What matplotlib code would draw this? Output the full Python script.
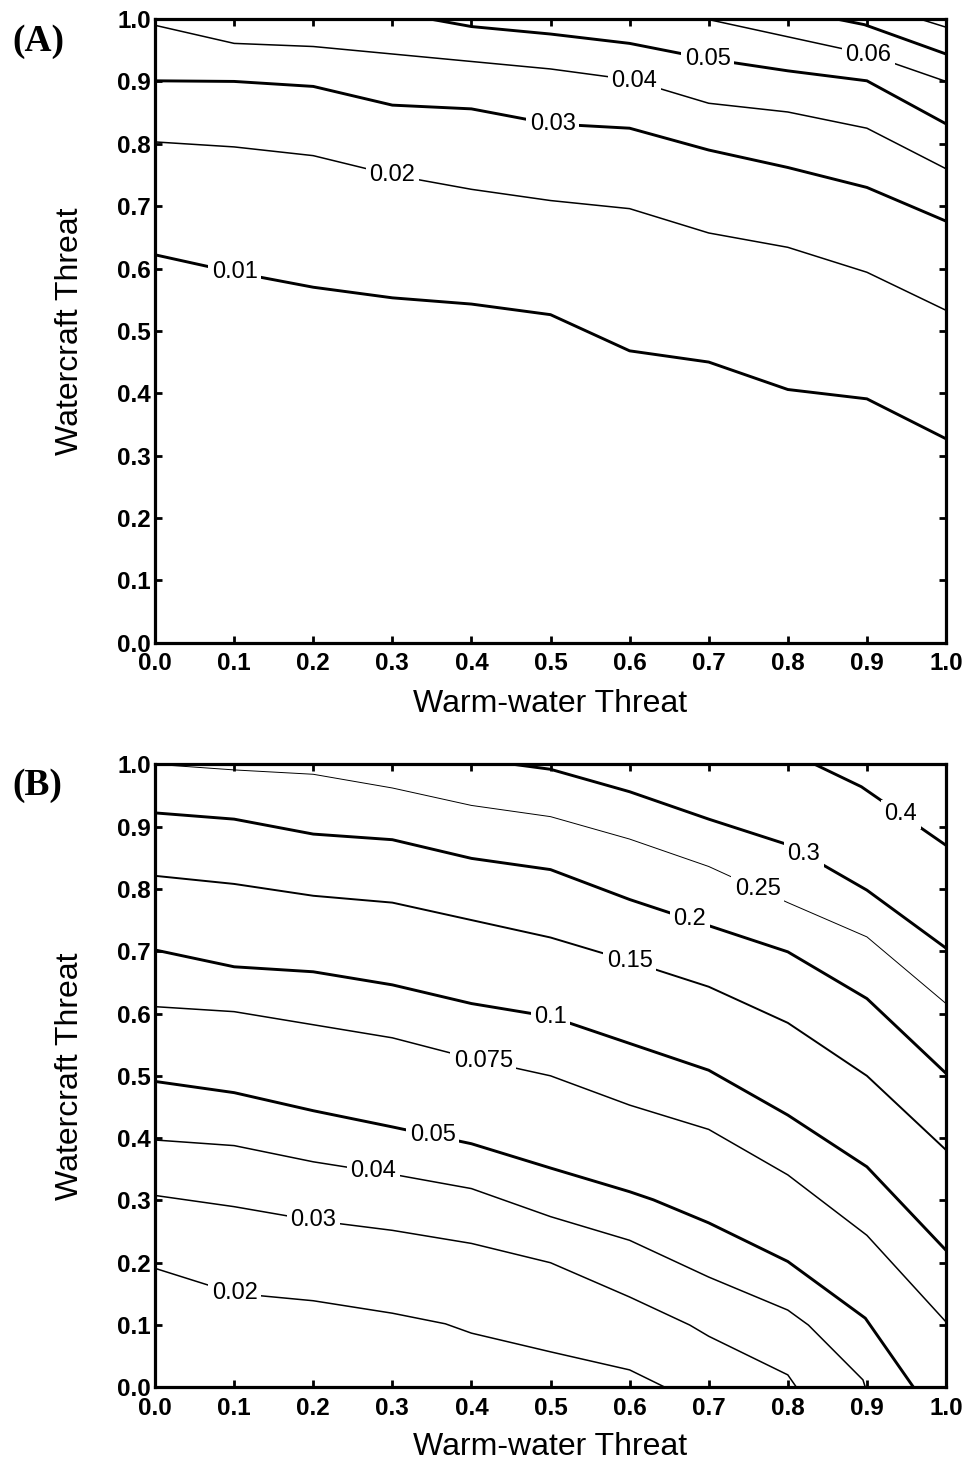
import numpy as np
import matplotlib
matplotlib.use("Agg")
import matplotlib.pyplot as plt

plt.rcParams["font.family"] = ["Liberation Sans", "DejaVu Sans"]

# ---------------- data ----------------
GRID = [0.0, 0.1, 0.2, 0.3, 0.4, 0.5, 0.6, 0.7, 0.8, 0.9, 1.0]

# panel A: contour levels and their vertices (warm-water x, watercraft y)
a_levels = ["0.01", "0.02", "0.03", "0.04", "0.05", "0.06", "0.07", "0.08"]
a_x_001 = GRID
a_y_001 = [0.622, 0.594, 0.570, 0.553, 0.543, 0.526, 0.468, 0.450, 0.406, 0.391, 0.327]
a_x_002 = GRID
a_y_002 = [0.803, 0.795, 0.781, 0.750, 0.727, 0.709, 0.696, 0.657, 0.634, 0.594, 0.533]
a_x_003 = GRID
a_y_003 = [0.901, 0.900, 0.892, 0.862, 0.856, 0.832, 0.825, 0.790, 0.762, 0.730, 0.676]
a_x_004 = GRID
a_y_004 = [0.990, 0.961, 0.956, 0.944, 0.932, 0.920, 0.903, 0.865, 0.851, 0.825, 0.760]
a_x_005 = [0.348, 0.4, 0.5, 0.6, 0.7, 0.8, 0.9, 1.0]
a_y_005 = [1.0, 0.988, 0.976, 0.961, 0.936, 0.917, 0.901, 0.832]
a_x_006 = [0.697, 0.9, 1.0]
a_y_006 = [1.0, 0.944, 0.900]
a_x_007 = [0.862, 0.897, 1.0]
a_y_007 = [1.0, 0.991, 0.944]
a_x_008 = [0.967, 1.0]
a_y_008 = [1.0, 0.987]

# panel B
b_levels = ["0.02", "0.03", "0.04", "0.05", "0.075", "0.1", "0.15", "0.2", "0.25", "0.3", "0.4"]
b_x_002 = [0.0, 0.1, 0.2, 0.3, 0.367, 0.4, 0.5, 0.6, 0.645]
b_y_002 = [0.191, 0.151, 0.139, 0.119, 0.102, 0.087, 0.057, 0.028, 0.0]
b_x_003 = [0.0, 0.1, 0.2, 0.3, 0.4, 0.5, 0.6, 0.676, 0.7, 0.8, 0.811]
b_y_003 = [0.308, 0.290, 0.268, 0.252, 0.231, 0.200, 0.145, 0.100, 0.082, 0.020, 0.0]
b_x_004 = [0.0, 0.1, 0.2, 0.3, 0.4, 0.5, 0.6, 0.7, 0.8, 0.826, 0.895, 0.898]
b_y_004 = [0.397, 0.388, 0.362, 0.342, 0.319, 0.274, 0.236, 0.177, 0.124, 0.100, 0.012, 0.0]
b_x_005 = [0.0, 0.1, 0.2, 0.3, 0.4, 0.5, 0.6, 0.63, 0.7, 0.8, 0.898, 0.959]
b_y_005 = [0.491, 0.473, 0.444, 0.418, 0.391, 0.352, 0.314, 0.301, 0.264, 0.202, 0.111, 0.0]
b_x_0075 = GRID
b_y_0075 = [0.611, 0.603, 0.582, 0.561, 0.528, 0.500, 0.453, 0.414, 0.341, 0.244, 0.105]
b_x_010 = GRID
b_y_010 = [0.702, 0.675, 0.667, 0.646, 0.616, 0.595, 0.552, 0.509, 0.437, 0.354, 0.220]
b_x_015 = GRID
b_y_015 = [0.821, 0.808, 0.789, 0.778, 0.750, 0.722, 0.684, 0.643, 0.585, 0.500, 0.381]
b_x_020 = GRID
b_y_020 = [0.922, 0.912, 0.888, 0.879, 0.849, 0.831, 0.783, 0.741, 0.699, 0.624, 0.504]
b_x_025 = GRID
b_y_025 = [1.0, 0.991, 0.984, 0.962, 0.934, 0.916, 0.880, 0.836, 0.778, 0.723, 0.616]
b_x_030 = [0.453, 0.5, 0.6, 0.7, 0.8, 0.9, 1.0]
b_y_030 = [1.0, 0.992, 0.956, 0.912, 0.871, 0.798, 0.705]
b_x_040 = [0.834, 0.893, 1.0]
b_y_040 = [1.0, 0.964, 0.870]

TICKS = GRID
TICK_LABELS = ["0.0", "0.1", "0.2", "0.3", "0.4", "0.5", "0.6", "0.7", "0.8", "0.9", "1.0"]

# ---------------- styling ----------------
THICK, MID, THIN, HAIR = 2.1, 1.4, 1.1, 0.7

# (x, y, line width, x position of the inline label)
panel_a = [
    (a_x_001, a_y_001, THICK, 0.101),
    (a_x_002, a_y_002, THIN, 0.300),
    (a_x_003, a_y_003, THICK, 0.503),
    (a_x_004, a_y_004, THIN, 0.606),
    (a_x_005, a_y_005, THICK, 0.699),
    (a_x_006, a_y_006, THIN, 0.902),
    (a_x_007, a_y_007, THICK, None),
    (a_x_008, a_y_008, THIN, None),
]
panel_b = [
    (b_x_002, b_y_002, THIN, 0.101),
    (b_x_003, b_y_003, THIN, 0.200),
    (b_x_004, b_y_004, THIN, 0.276),
    (b_x_005, b_y_005, THICK, 0.351),
    (b_x_0075, b_y_0075, THIN, 0.415),
    (b_x_010, b_y_010, THICK, 0.500),
    (b_x_015, b_y_015, MID, 0.600),
    (b_x_020, b_y_020, THICK, 0.676),
    (b_x_025, b_y_025, HAIR, 0.762),
    (b_x_030, b_y_030, THICK, 0.820),
    (b_x_040, b_y_040, THICK, 0.943),
]

fig = plt.figure(figsize=(9.66, 14.67), dpi=100)
ax_a = fig.add_axes([0.1605, 0.5619, 0.8188, 0.4251])
ax_b = fig.add_axes([0.1605, 0.0543, 0.8188, 0.4247])


def draw_panel(ax, lines, levels, tag, tag_y, xlab_y):
    for (xs, ys, lw, lab_x), lev in zip(lines, levels):
        ax.plot(xs, ys, color="black", lw=lw, solid_joinstyle="miter",
                solid_capstyle="butt", zorder=2)
        if lab_x is not None:
            lab_y = np.interp(lab_x, xs, ys)
            ax.text(lab_x, lab_y, lev, fontsize=17, ha="center", va="center",
                    zorder=3,
                    bbox=dict(boxstyle="square,pad=0.15", fc="white", ec="none"))
    ax.set_xlim(0, 1)
    ax.set_ylim(0, 1)
    ax.set_xticks(TICKS)
    ax.set_yticks(TICKS)
    ax.set_xticklabels(TICK_LABELS, fontweight="bold", fontsize=17.5)
    ax.set_yticklabels(TICK_LABELS, fontweight="bold", fontsize=17.5)
    ax.tick_params(direction="in", length=5, width=2, top=True, right=True)
    ax.tick_params(axis="x", pad=7)
    ax.tick_params(axis="y", pad=3)
    for sp in ax.spines.values():
        sp.set_linewidth(2.3)
        sp.set_zorder(5)
    ax.set_xlabel("Warm-water Threat", fontsize=23)
    ax.set_ylabel("Watercraft Threat", fontsize=23)
    ax.xaxis.set_label_coords(0.5, xlab_y)
    ax.yaxis.set_label_coords(-0.089, 0.5)
    fig.text(0.0124, tag_y, tag, fontsize=27, fontweight="bold",
             family="Liberation Serif", ha="left", va="center")


draw_panel(ax_a, panel_a, a_levels, "(A)", 0.9717, -0.074)
draw_panel(ax_b, panel_b, b_levels, "(B)", 0.4646, -0.072)

fig.savefig("out.png", dpi=100)
